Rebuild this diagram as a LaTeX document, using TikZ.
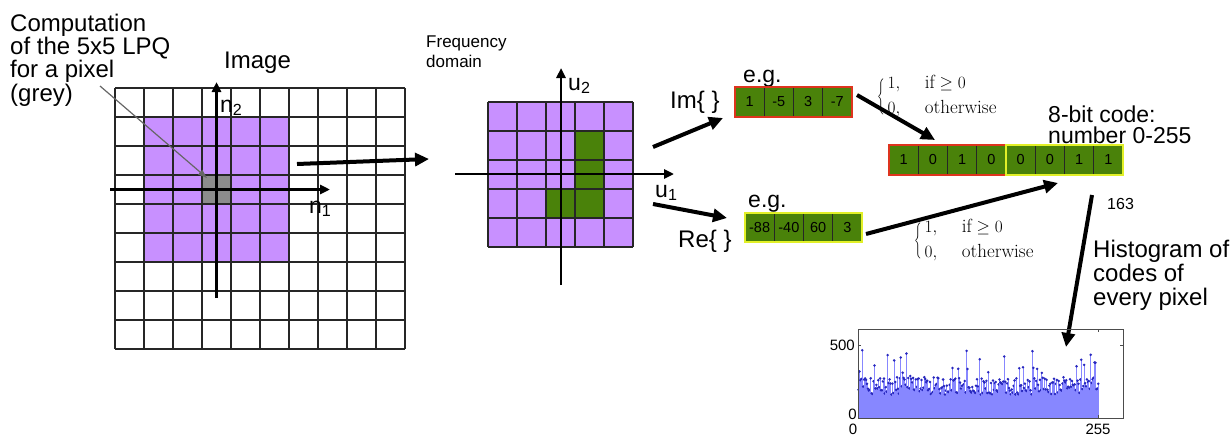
\documentclass[tikz,border=0pt]{standalone}
\usepackage{graphicx}
\usepackage{fontspec}
\setsansfont{Liberation Sans}
\usetikzlibrary{arrows.meta}

\definecolor{lpqviolet}{RGB}{200,144,255}
\definecolor{lpqgreen}{RGB}{74,130,10}
\definecolor{lpqred}{RGB}{222,52,30}
\definecolor{lpqyellow}{RGB}{226,240,40}
\definecolor{pixgrey}{RGB}{140,140,140}
\definecolor{histbar}{RGB}{135,135,255}
\definecolor{histdot}{RGB}{40,40,190}

% sign rule: tall brace followed by the two cases
\newcommand{\signrule}{$\vcenter{\hbox{\scalebox{1}[1.5]{$\Bigg\{$}}}\,%
  \begin{array}{@{}l@{\hspace{1.3em}}l@{}}1, & \mbox{if} \geq 0\\ 0, & \mbox{otherwise}\end{array}$}

\begin{document}
\begin{tikzpicture}[x=1pt,y=-1pt,
  big/.style={font=\sffamily\fontsize{24}{21}\selectfont, inner sep=0pt, align=left},
  mid/.style={font=\sffamily\fontsize{17}{20}\selectfont, inner sep=0pt, align=left},
  small/.style={font=\sffamily\fontsize{15}{15}\selectfont, inner sep=0pt},
  casesnode/.style={font=\rmfamily\fontsize{19}{25}\selectfont, inner sep=0pt, anchor=west},
  cell/.style={draw=black!85, line width=0.6pt, fill=lpqgreen, minimum width=29.25pt,
    minimum height=30pt, inner sep=0pt, font=\sffamily\fontsize{14.5}{14.5}\selectfont},
  gridline/.style={black!85, line width=1.1pt},
  axis/.style={black, line width=2.8pt, -{Triangle[length=10pt,width=9pt]}},
  bigarrow/.style={black, line width=4pt, -{Triangle[length=14pt,width=13pt]}},
  pointer/.style={black!60, line width=1.2pt, -{Triangle[length=9pt,width=6pt]}},
  redframe/.style={lpqred, line width=1.8pt},
  yellowframe/.style={lpqyellow, line width=1.8pt}]
\useasboundingbox (0,0) rectangle (1230,436);

% ---------- image grid with the 5x5 neighbourhood ----------
\fill[lpqviolet] (144,117) rectangle (289,262);
\fill[pixgrey] (202,175) rectangle (231,204);
\foreach \i in {0,...,10} \draw[gridline] ({115+29*\i},88) -- ({115+29*\i},349);
\foreach \j in {0,...,9} \draw[gridline] (115,{88+29*\j}) -- (405,{88+29*\j});
\coordinate (nYlow) at (216.5,298);
\coordinate (nYtop) at (216.5,82);
\coordinate (nXlow) at (110,189.5);
\coordinate (nXtop) at (330,189.5);
\draw[axis] (nYlow) -- (nYtop);
\draw[axis] (nXlow) -- (nXtop);
\node[big, font=\sffamily\fontsize{23}{23}\selectfont, anchor=base west] (n2) at (220,112) {n\textsubscript{2}};
\node[big, font=\sffamily\fontsize{23}{23}\selectfont, anchor=base west] (n1) at (309,213) {n\textsubscript{1}};
\node[big, anchor=base west] (imagelbl) at (224,68) {Image};

\node[big, anchor=north west] (comp) at (10,14) {Computation\\of the 5x5 LPQ\\for a pixel\\(grey)};
\coordinate (compend) at (100,86);
\coordinate (greycell) at (207,178);
\draw[pointer] (compend) -- (greycell);

% ---------- frequency domain ----------
\fill[lpqviolet] (488,102) rectangle (633,247);
\fill[lpqgreen] (575,131) rectangle (604,218);
\fill[lpqgreen] (546,189) rectangle (575,218);
\foreach \i in {0,...,5} \draw[gridline] ({488+29*\i},102) -- ({488+29*\i},247);
\foreach \j in {0,...,5} \draw[gridline] (488,{102+29*\j}) -- (633,{102+29*\j});
\coordinate (uYlow) at (561,285);
\coordinate (uYtop) at (561,68);
\coordinate (uXlow) at (455,174);
\coordinate (uXtop) at (674,174);
\draw[axis] (uYlow) -- (uYtop);
\draw[axis] (uXlow) -- (uXtop);
\node[big, font=\sffamily\fontsize{23}{23}\selectfont, anchor=base west] (u2) at (568,90) {u\textsubscript{2}};
\node[big, font=\sffamily\fontsize{23}{23}\selectfont, anchor=base west] (u1) at (655,197) {u\textsubscript{1}};
\node[mid, anchor=north west] (freqlbl) at (426,35.5) {Frequency\\domain};

\coordinate (imgout) at (297,164);
\coordinate (freqin) at (429,159);
\draw[bigarrow] (imgout) -- (freqin);

% ---------- imaginary and real parts ----------
\node[big, anchor=base west] (imlbl) at (670,108) {Im\{ \}};
\node[big, anchor=base west] (relbl) at (678,247) {Re\{ \}};
\coordinate (freqtop) at (653,147);
\coordinate (imin) at (723,118);
\coordinate (freqbot) at (653,204);
\coordinate (rein) at (727,218);
\draw[bigarrow] (freqtop) -- (imin);
\draw[bigarrow] (freqbot) -- (rein);

\node[big, font=\sffamily\fontsize{23}{23}\selectfont, anchor=base west] (egim) at (743,82) {e.g.};
\node[big, font=\sffamily\fontsize{23}{23}\selectfont, anchor=base west] (egre) at (748,207) {e.g.};

\foreach \t [count=\k] in {1,-5,3,-7}
  \node[cell] (im\k) at ({749.6+29.25*(\k-1)},102) {\t};
\draw[redframe] (im1.north west) rectangle (im4.south east);

\foreach \t [count=\k] in {-88,-40,60,3}
  \node[cell, minimum height=29pt] (re\k) at ({759.6+29.25*(\k-1)},227.5) {\t};
\draw[yellowframe] (re1.north west) rectangle (re4.south east);

\node[casesnode] (casesim) at (877,96) {\signrule};
\node[casesnode] (casesre) at (914,240) {\signrule};

% ---------- 8-bit code ----------
\foreach \t [count=\k] in {1,0,1,0,0,0,1,1}
  \node[cell] (cb\k) at ({903.6+29.25*(\k-1)},160) {\t};
\draw[redframe] (cb1.north west) rectangle (cb4.south east);
\draw[yellowframe] (cb5.north west) rectangle (cb8.south east);

\coordinate (imout) at (857,95);
\coordinate (codein) at (935,140);
\draw[bigarrow] (imout) -- (codein);
\coordinate (reout) at (866,234);
\coordinate (codeinre) at (1058,183);
\draw[bigarrow] (reout) -- (codeinre);

\node[big, font=\sffamily\fontsize{23}{21.5}\selectfont, anchor=north west] (codelbl) at (1048,105.5) {8-bit code:\\number 0-255};
\node[small, font=\sffamily\fontsize{16}{16}\selectfont, anchor=base west] (val) at (1107,209) {163};
\node[big, font=\sffamily\fontsize{24}{24}\selectfont, anchor=north west] (histlbl) at (1093,240) {Histogram of\\codes of\\every pixel};

\coordinate (valout) at (1092,195);
\coordinate (histin) at (1066,347);
\draw[bigarrow] (valout) -- (histin);

% ---------- histogram of codes ----------
\pgfmathsetseed{2718}
\foreach \i in {0,...,255} {
  \pgfmathsetmacro\v{160+120*rnd+ifthenelse(rnd>0.87,80+120*rnd,0)}
  \pgfmathsetmacro\hx{858.5+0.94*\i}
  \pgfmathsetmacro\hy{418-0.146*\v}
  \fill[histbar] (\hx-0.38,418) rectangle (\hx+0.38,\hy);
  \fill[histdot] (\hx,\hy) circle (1.4);
}
\draw[black!70, line width=0.8pt] (858,329) rectangle (1123,418);
\draw[black!70, line width=0.6pt] (858,345) -- (861,345) (1123,345) -- (1120,345)
  (1098,418) -- (1098,415) (1098,329) -- (1098,332);
\node[small, anchor=east] (ytop) at (855,345) {500};
\node[small, anchor=east] (ybot) at (857,414) {0};
\node[small] (xlow) at (853,429) {0};
\node[small] (xhigh) at (1098,429) {255};
\end{tikzpicture}
\end{document}
